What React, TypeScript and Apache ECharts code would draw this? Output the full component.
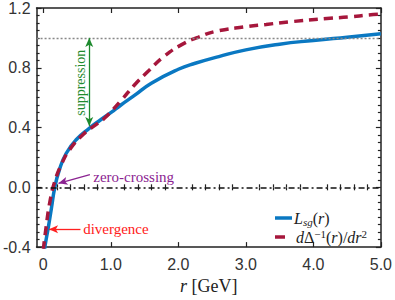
import React, { useEffect, useRef } from "react";
import * as echarts from "echarts";

// r [GeV] sample points and values
const rBlue = [0.01, 0.023, 0.073, 0.12, 0.17, 0.24, 0.34, 0.49, 0.68, 0.85, 1.0, 1.15, 1.35, 1.6, 2.0, 2.25, 2.6, 3.0, 3.5, 4.0, 4.5, 5.0];
const lsgValues = [-0.46, -0.4, -0.27, -0.14, 0.0, 0.12, 0.228, 0.32, 0.395, 0.452, 0.5, 0.551, 0.615, 0.697, 0.79, 0.83, 0.875, 0.92, 0.958, 0.983, 1.005, 1.027];

const rRed = [0.0, 0.04, 0.1, 0.17, 0.27, 0.39, 0.59, 0.78, 0.9, 1.15, 1.34, 1.56, 1.8, 2.05, 2.3, 2.55, 3.0, 3.3, 3.66, 4.2, 4.55, 4.8, 5.0];
const dDeltaValues = [-0.42, -0.27, -0.09, 0.04, 0.155, 0.252, 0.354, 0.42, 0.46, 0.58, 0.68, 0.78, 0.88, 0.955, 1.005, 1.043, 1.075, 1.09, 1.108, 1.13, 1.141, 1.153, 1.16];

const xMajorTicks = [0, 1, 2, 3, 4, 5];
const xMinorTicks = [0.2, 0.4, 0.6, 0.8, 1.2, 1.4, 1.6, 1.8, 2.2, 2.4, 2.6, 2.8, 3.2, 3.4, 3.6, 3.8, 4.2, 4.4, 4.6, 4.8];
const yMin = -0.4;
const yMax = 1.2;
const yStep = 0.4;
const xMin = -0.1;
const xMax = 5.0;

const SERIF = "'Liberation Serif', 'DejaVu Serif', serif";
const SANS = "'Liberation Sans', Arial, sans-serif";
const BLUE = "#0a78c2";
const RED = "#a6173c";
const GREEN = "#1e8a2e";
const PURPLE = "#8b2391";
const BRIGHT_RED = "#ff2020";

export default function App() {
  const ref = useRef<HTMLDivElement>(null);

  useEffect(() => {
    const chart = echarts.init(ref.current!, null, { renderer: "svg" });
    const axisLineStyle = { color: "#222", width: 1.5 };
    const majorX = (position: string, showLabel: boolean) => ({
      type: "value",
      position,
      min: xMin,
      max: xMax,
      axisLine: { show: true, onZero: false, lineStyle: axisLineStyle },
      axisTick: { show: true, inside: true, length: 5, customValues: xMajorTicks, lineStyle: { color: "#222", width: 1.2 } },
      axisLabel: {
        show: showLabel,
        customValues: xMajorTicks,
        formatter: (v: number) => (v === 0 ? "0" : v.toFixed(1)),
        fontFamily: SANS,
        fontSize: 16,
        color: "#333",
        margin: 9,
      },
      splitLine: { show: false },
    });
    const minorX = (position: string) => ({
      type: "value",
      position,
      min: xMin,
      max: xMax,
      axisLine: { show: false },
      axisTick: { show: true, inside: true, length: 3, customValues: xMinorTicks, lineStyle: { color: "#222", width: 1.2 } },
      axisLabel: { show: false },
      splitLine: { show: false },
    });
    const yAx = (position: string, showLabel: boolean) => ({
      type: "value",
      position,
      min: yMin,
      max: yMax,
      interval: yStep,
      axisLine: { show: true, onZero: false, lineStyle: axisLineStyle },
      axisTick: { show: true, inside: true, length: 5, lineStyle: { color: "#222", width: 1.2 } },
      minorTick: { show: true, splitNumber: 8, length: 3, lineStyle: { color: "#222", width: 1.2 } },
      axisLabel: {
        show: showLabel,
        formatter: (v: number) => v.toFixed(1),
        fontFamily: SANS,
        fontSize: 16,
        color: "#333",
        margin: 6,
      },
      splitLine: { show: false },
    });

    const xAxis0: any = majorX("bottom", true);
    xAxis0.name = "{i|r} [GeV]";
    xAxis0.nameLocation = "middle";
    xAxis0.nameGap = 29;
    xAxis0.nameTextStyle = {
      fontFamily: SERIF,
      fontSize: 18,
      color: "#222",
      rich: { i: { fontFamily: SERIF, fontStyle: "italic", fontSize: 18, color: "#222" } },
    };

    chart.setOption({
      animation: false,
      grid: { left: 35, right: 12, top: 6, bottom: 50, containLabel: false },
      xAxis: [xAxis0, minorX("bottom"), majorX("top", false), minorX("top")],
      yAxis: [yAx("left", true), yAx("right", false)],
      legend: { show: false, data: ["Lsg", "dDelta"] },
      series: [
        {
          name: "Lsg",
          type: "line",
          xAxisIndex: 0,
          yAxisIndex: 0,
          data: rBlue.map((r, i) => [r, lsgValues[i]]),
          smooth: 0.5,
          showSymbol: false,
          symbol: "none",
          clip: true,
          itemStyle: { color: BLUE },
          lineStyle: { color: BLUE, width: 3.5 },
          z: 3,
          markLine: {
            silent: true,
            symbol: ["none", "none"],
            label: { show: false },
            emphasis: { disabled: true },
            data: [
              { yAxis: 1.0, lineStyle: { type: [2, 2], color: "#888", width: 1.3 } },
              { yAxis: 0.0, lineStyle: { type: [6, 3, 2, 3], color: "#111", width: 1.5 } },
              [
                { coord: [0.68, 1.0], symbol: "arrow", symbolSize: [6, 9], lineStyle: { color: GREEN, width: 1.3, type: "solid" } },
                { coord: [0.68, 0.41], symbol: "arrow", symbolSize: [6, 9] },
              ],
              [
                { coord: [0.69, 0.085], symbol: "none", lineStyle: { color: PURPLE, width: 1.3, type: "solid" } },
                { coord: [0.225, 0.027], symbol: "arrow", symbolSize: [6, 9] },
              ],
              [
                { coord: [0.55, -0.28], symbol: "none", lineStyle: { color: BRIGHT_RED, width: 1.3, type: "solid" } },
                { coord: [0.085, -0.28], symbol: "arrow", symbolSize: [6, 9] },
              ],
            ],
          },
        },
        {
          name: "dDelta",
          type: "line",
          xAxisIndex: 0,
          yAxisIndex: 0,
          data: rRed.map((r, i) => [r, dDeltaValues[i]]),
          smooth: 0.5,
          showSymbol: false,
          symbol: "none",
          clip: true,
          itemStyle: { color: RED },
          lineStyle: { color: RED, width: 3.5, type: [9, 6] },
          z: 4,
        },
      ],
    });

    const px = (x: number, y: number) => chart.convertToPixel({ gridIndex: 0 }, [x, y]) as number[];
    const sup = px(0.55, 0.7);
    const zc = px(0.74, 0.066);
    const dv = px(0.59, -0.282);
    const legendRich = {
      i: { fontFamily: SERIF, fontStyle: "italic", fontSize: 16, fill: "#222", lineHeight: 18 },
      n: { fontFamily: SERIF, fontSize: 16, fill: "#222", lineHeight: 18 },
      sub: { fontFamily: SERIF, fontStyle: "italic", fontSize: 11, fill: "#222", lineHeight: 8, verticalAlign: "bottom" },
      sup: { fontFamily: SERIF, fontSize: 11, fill: "#222", lineHeight: 8, verticalAlign: "top" },
    };
    chart.setOption({
      graphic: [
        {
          type: "text",
          x: sup[0],
          y: sup[1],
          rotation: Math.PI / 2,
          style: { text: "suppression", fill: GREEN, font: `14px ${SERIF}`, textAlign: "center", textVerticalAlign: "middle" },
        },
        {
          type: "text",
          x: zc[0],
          y: zc[1],
          style: { text: "zero-crossing", fill: PURPLE, font: `15px ${SERIF}`, textAlign: "left", textVerticalAlign: "middle" },
        },
        {
          type: "text",
          x: dv[0],
          y: dv[1],
          style: { text: "divergence", fill: BRIGHT_RED, font: `15px ${SERIF}`, textAlign: "left", textVerticalAlign: "middle" },
        },
        // legend
        { type: "line", shape: { x1: 275, y1: 218, x2: 292, y2: 218 }, style: { stroke: BLUE, lineWidth: 3.5 } },
        { type: "line", shape: { x1: 275, y1: 237, x2: 285, y2: 237 }, style: { stroke: RED, lineWidth: 3.5 } },
        {
          type: "text",
          x: 294,
          y: 218,
          style: { text: "{i|L}{sub|sg}{n|(}{i|r}{n|)}", rich: legendRich, textAlign: "left", textVerticalAlign: "middle" },
        },
        {
          type: "text",
          x: 296,
          y: 237,
          style: {
            text: "{i|d}{n|Δ}{sup|−1}{n|(}{i|r}{n|)/}{i|dr}{sup|2}",
            rich: legendRich,
            textAlign: "left",
            textVerticalAlign: "middle",
          },
        },
      ],
    });

    return () => chart.dispose();
  }, []);

  return <div ref={ref} style={{ position: "absolute", left: 0, top: 0, width: 395, height: 300 }} />;
}
